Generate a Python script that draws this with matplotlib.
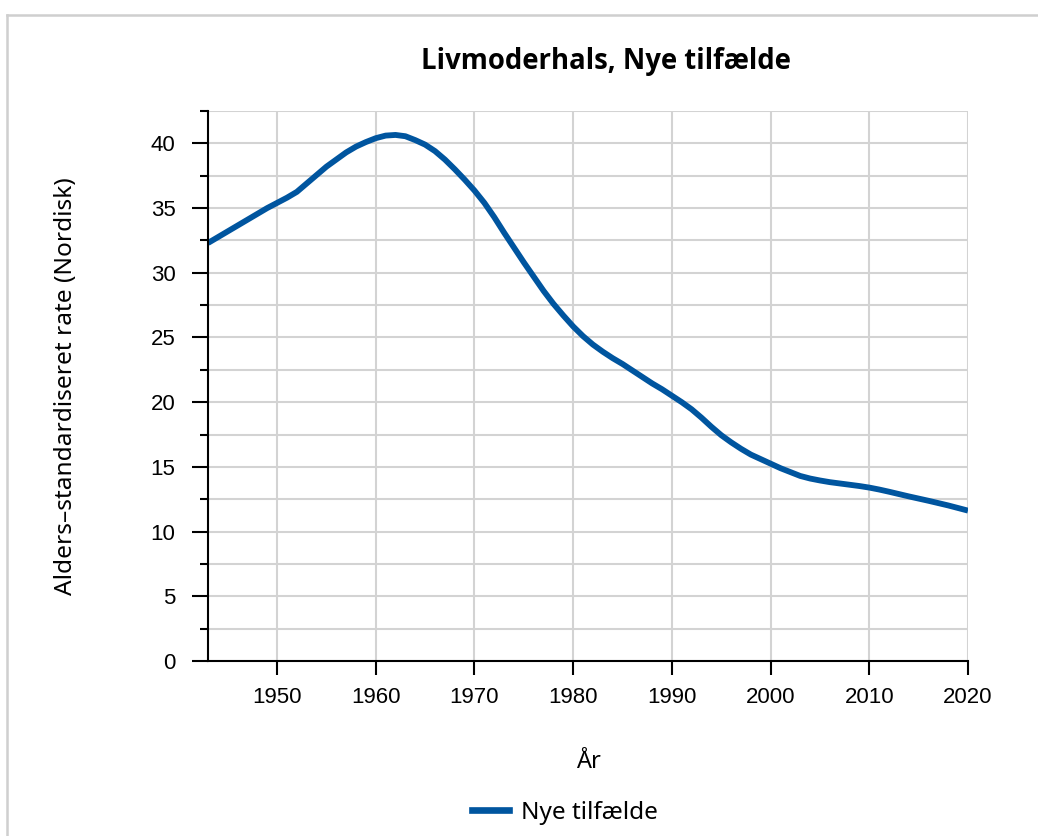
import matplotlib

matplotlib.use("Agg")
import matplotlib.pyplot as plt
from matplotlib.lines import Line2D
from matplotlib.ticker import MultipleLocator

years = list(range(1943, 2021))
rate = [32.3, 32.75, 33.2, 33.65, 34.1, 34.55, 35.0, 35.4, 35.8, 36.25,
        36.9, 37.55, 38.2, 38.75, 39.3, 39.75, 40.1, 40.4, 40.6, 40.65,
        40.55, 40.25, 39.9, 39.4, 38.75, 38.0, 37.2, 36.35, 35.4, 34.3,
        33.1, 31.95, 30.8, 29.7, 28.6, 27.6, 26.7, 25.85, 25.1, 24.45,
        23.9, 23.4, 22.95, 22.45, 21.95, 21.45, 21.0, 20.5, 20.0, 19.45,
        18.8, 18.1, 17.45, 16.9, 16.4, 15.95, 15.6, 15.25, 14.9, 14.6,
        14.3, 14.1, 13.95, 13.82, 13.72, 13.62, 13.52, 13.4, 13.25, 13.08,
        12.9, 12.72, 12.55, 12.38, 12.2, 12.02, 11.82, 11.62]

title = "Livmoderhals, Nye tilfælde"
series_label = "Nye tilfælde"
x_label = "År"
y_label = "Alders\u2013standardiseret rate (Nordisk)"

LINE_COLOR = "#00559f"
GRID_COLOR = "#d3d3d3"
W, H = 1038, 836

fig = plt.figure(figsize=(W / 100, H / 100), dpi=100)
ax = fig.add_axes([208 / W, 1 - 661 / H, 760 / W, 550 / H])

ax.plot(years, rate, color=LINE_COLOR, linewidth=4.2, solid_joinstyle="round",
        solid_capstyle="butt", label=series_label, zorder=3)

ax.set_xlim(1943, 2020)
ax.set_ylim(0, 42.5)
ax.xaxis.set_major_locator(MultipleLocator(10))
ax.yaxis.set_major_locator(MultipleLocator(5))
ax.yaxis.set_minor_locator(MultipleLocator(2.5))

ax.grid(True, which="major", axis="x", color=GRID_COLOR, linewidth=1.5)
ax.grid(True, which="both", axis="y", color=GRID_COLOR, linewidth=1.5)
ax.set_axisbelow(True)

for side in ("top", "right"):
    ax.spines[side].set_visible(False)
for side in ("left", "bottom"):
    ax.spines[side].set_linewidth(1.5)
    ax.spines[side].set_zorder(4)

ax.tick_params(axis="both", which="major", labelsize=16, width=1.5, color="black")
ax.tick_params(axis="y", which="major", length=11.5, pad=12)
ax.tick_params(axis="y", which="minor", length=5.8, width=1.5)
ax.tick_params(axis="x", which="major", length=10, pad=9)
for lbl in ax.get_xticklabels() + ax.get_yticklabels():
    lbl.set_family("Liberation Sans")

ax.set_ylabel(y_label, fontsize=17.6, family="Noto Sans")
ax.yaxis.set_label_coords((78 - 208) / 760, 0.5)

fig.text(606 / W, 1 - 62 / H, title, ha="center", va="center",
         fontsize=19.8, fontweight="bold", family=["Open Sans", "DejaVu Sans"])
fig.text(588 / W, 1 - 762 / H, x_label, ha="center", va="center",
         fontsize=17, family="Noto Sans")

handle = Line2D([], [], color=LINE_COLOR, linewidth=4.8)
fig.legend([handle], [series_label], loc="center",
           bbox_to_anchor=(565 / W, 1 - 813 / H), frameon=False,
           prop={"family": "Noto Sans", "size": 17.5},
           handlelength=1.5, handletextpad=0.5)

# light frame around the chart
fig.add_artist(Line2D([7 / W, 7 / W], [0, 1 - 15 / H], color="#cfcfcf",
                      linewidth=1.8, transform=fig.transFigure))
fig.add_artist(Line2D([7 / W, 1], [1 - 15 / H, 1 - 15 / H], color="#cfcfcf",
                      linewidth=1.8, transform=fig.transFigure))

fig.savefig("out.png", dpi=100)
plt.close(fig)
